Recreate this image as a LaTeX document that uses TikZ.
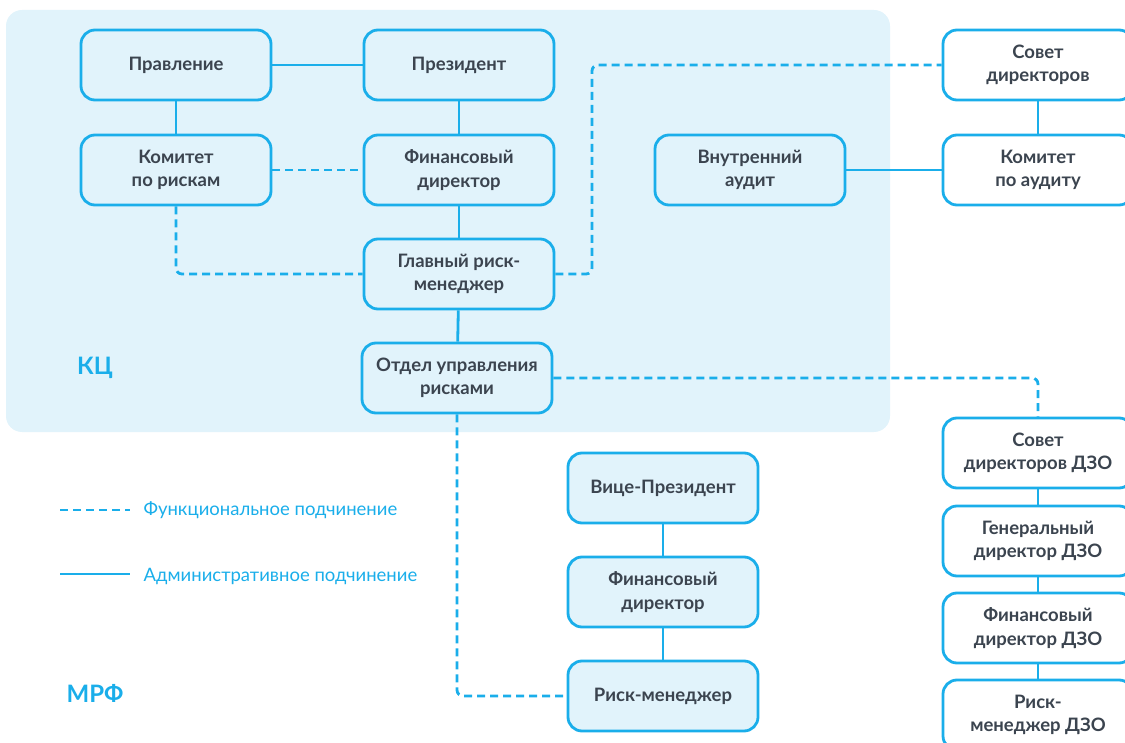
\documentclass[tikz,border=0pt]{standalone}
\usepackage{fontspec}
\setmainfont{Lato}
\usepackage{xcolor}
\usetikzlibrary{positioning,calc}
\definecolor{kcblue}{HTML}{1AAEEA}
\definecolor{kcfill}{HTML}{E1F3FB}
\definecolor{kctext}{HTML}{3B444F}

\begin{document}
\begin{tikzpicture}[
    x=1pt, y=-1pt,
    unit/.style={rectangle, draw=kcblue, line width=2.8pt, rounded corners=14pt,
        minimum width=190pt, minimum height=70pt, align=center,
        font=\fontsize{18.5}{23.5}\selectfont\bfseries, text=kctext},
    unitkc/.style={unit, fill=kcfill},
    unitw/.style={unit, fill=white},
    admin/.style={draw=kcblue, line width=2.8pt},
    func/.style={admin, dash pattern=on 8pt off 5pt, rounded corners=6pt},
    area/.style={font=\fontsize{24}{28}\selectfont\bfseries, text=kcblue},
    legend/.style={font=\fontsize{18.5}{22}\selectfont, text=kcblue, anchor=west}
]
    \clip (0,0) rectangle (1125,743);
    \fill[kcfill, rounded corners=16pt] (6,10) rectangle (890,432);

    % KC
    \node[unitkc] (pravl)  at (176,65)  {Правление};
    \node[unitkc] (prez)   at (459,65)  {Президент};
    \node[unitkc] (komr)   at (176,170) {Комитет\\по рискам};
    \node[unitkc] (findir) at (459,170) {Финансовый\\директор};
    \node[unitkc] (glrisk) at (459,274) {Главный риск-\\менеджер};
    \node[unitkc] (otdel)  at (457,378) {Отдел управления\\рисками};
    \node[unitkc] (vaudit) at (750,170) {Внутренний\\аудит};
    \node[area] (kc) at (95,368) {КЦ};

    % board
    \node[unitw] (sovet)  at (1038,65)  {Совет\\директоров};
    \node[unitw] (komaud) at (1038,170) {Комитет\\по аудиту};

    % MRF
    \node[unitkc] (vice)  at (663,488) {Вице-Президент};
    \node[unitkc] (finm)  at (663,592) {Финансовый\\директор};
    \node[unitkc] (riskm) at (663,696) {Риск-менеджер};
    \node[area] (mrf) at (95,693) {МРФ};

    % DZO
    \node[unitw] (sovdzo)  at (1038,453) {Совет\\директоров ДЗО};
    \node[unitw] (gendzo)  at (1038,541) {Генеральный\\директор ДЗО};
    \node[unitw] (findzo)  at (1038,628) {Финансовый\\директор ДЗО};
    \node[unitw] (riskdzo) at (1038,715) {Риск-\\менеджер ДЗО};

    \draw[admin] (pravl) -- (prez);
    \draw[admin] (pravl) -- (komr);
    \draw[admin] (prez) -- (findir);
    \draw[admin] (findir) -- (glrisk);
    \draw[admin] (glrisk) -- (otdel);
    \draw[admin] (vaudit) -- (komaud);
    \draw[admin] (sovet) -- (komaud);
    \draw[admin] (vice) -- (finm);
    \draw[admin] (finm) -- (riskm);
    \draw[admin] (sovdzo) -- (gendzo);
    \draw[admin] (gendzo) -- (findzo);
    \draw[admin] (findzo) -- (riskdzo);

    \draw[func] (komr) -- (findir);
    \draw[func] (komr.south) |- (glrisk.west);
    \coordinate (turn) at (592,0);
    \draw[func] (glrisk.east) -| (turn |- sovet.west) -- (sovet.west);
    \draw[func] (otdel.east) -| (sovdzo.north);
    \draw[func] (otdel.south) |- (riskm.west);

    % legend
    \coordinate (funcA) at (60,510);
    \coordinate (funcB) at (130,510);
    \coordinate (admA) at (60,574);
    \coordinate (admB) at (130,574);
    \draw[func] (funcA) -- (funcB);
    \draw[admin] (admA) -- (admB);
    \node[legend] (funcL) at (140,510) {Функциональное подчинение};
    \node[legend] (admL) at (140,576) {Административное подчинение};
\end{tikzpicture}
\end{document}
